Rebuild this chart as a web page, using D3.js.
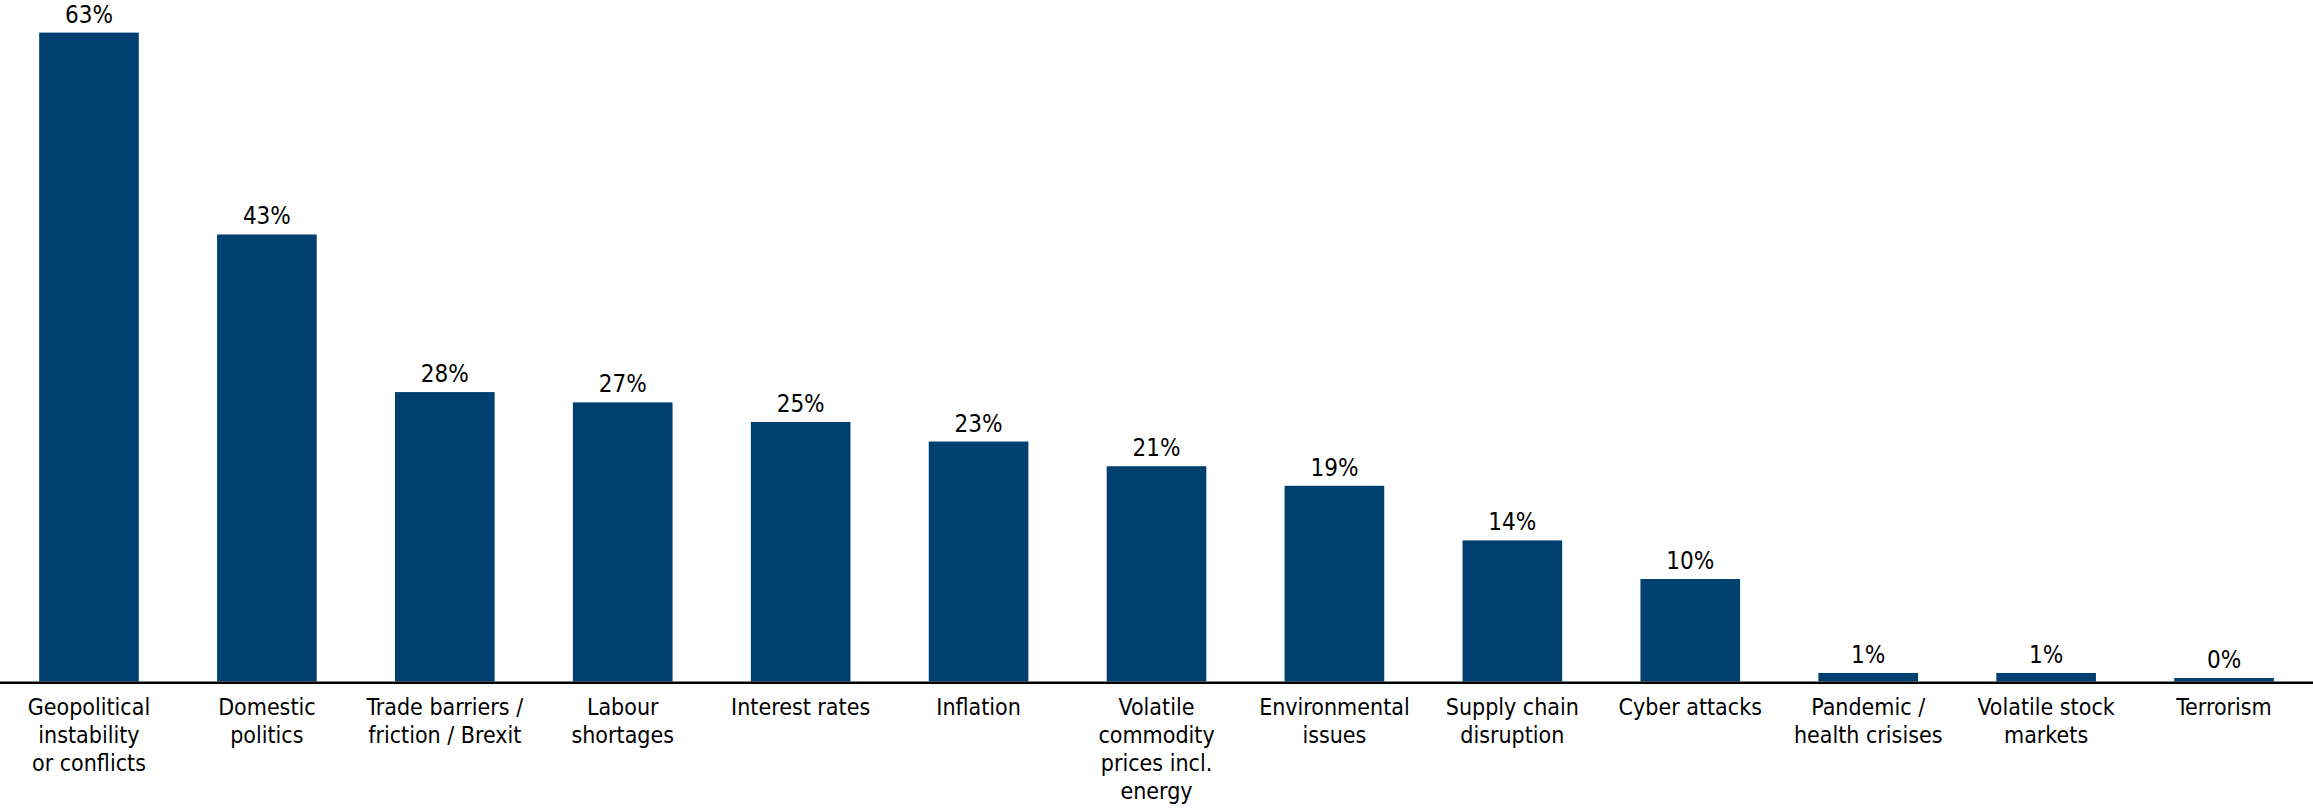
<!DOCTYPE html>
<html>
<head>
<meta charset="utf-8">
<script src="https://cdn.jsdelivr.net/npm/d3@7"></script>
<style>
  html, body { margin: 0; padding: 0; background: #fff; }
  svg text { font-family: "DejaVu Sans Condensed", "DejaVu Sans", sans-serif; fill: #000; }
</style>
</head>
<body>
<svg id="chart" width="2313" height="808"></svg>
<script>
// categories (line breaks as in the picture)
const categories = [
  "Geopolitical\ninstability\nor conflicts",
  "Domestic\npolitics",
  "Trade barriers /\nfriction / Brexit",
  "Labour\nshortages",
  "Interest rates",
  "Inflation",
  "Volatile\ncommodity\nprices incl.\nenergy",
  "Environmental\nissues",
  "Supply chain\ndisruption",
  "Cyber attacks",
  "Pandemic /\nhealth crisises",
  "Volatile stock\nmarkets",
  "Terrorism"
]

// share of respondents, %
const values = [63, 43.4, 28.1, 27.1, 25.2, 23.3, 20.9, 19.0, 13.7, 9.95, 0.83, 0.83, 0.34]

const width = 2313
const baseY = 681.5

const svg = d3.select("svg#chart")

const x = d3.scaleBand()
            .domain(categories)
            .range([0, width])
            .paddingInner(0.44)
            .paddingOuter(0.22)

const y = d3.scaleLinear()
            .domain([0, 65])
            .range([baseY, baseY - 65 * 10.3])

const fmt = v => Math.round(v) + "%"

// bars
svg.selectAll("rect.bar")
    .data(values)
    .join("rect")
        .attr("class", "bar")
        .attr("x", (d, i) => x(categories[i]))
        .attr("width", x.bandwidth())
        .attr("y", d => y(d))
        .attr("height", d => y(0) - y(d))
        .attr("fill", "#004071")

// value labels
svg.selectAll("text.val")
    .data(values)
    .join("text")
        .attr("class", "val")
        .attr("x", (d, i) => x(categories[i]) + x.bandwidth() / 2)
        .attr("y", d => y(d) - 10)
        .attr("text-anchor", "middle")
        .style("font-size", "24px")
        .text(d => fmt(d))

// baseline
svg.append("line")
    .attr("x1", 0)
    .attr("x2", width)
    .attr("y1", baseY + 1.2)
    .attr("y2", baseY + 1.2)
    .attr("stroke", "#000")
    .attr("stroke-width", 2.5)

// category labels
const cat = svg.selectAll("text.cat")
    .data(categories)
    .join("text")
        .attr("class", "cat")
        .attr("x", d => x(d) + x.bandwidth() / 2)
        .attr("y", 715)
        .attr("text-anchor", "middle")
        .style("font-size", "23px")

cat.selectAll("tspan")
    .data(d => d.split("\n").map(s => ({ s, x: x(d) + x.bandwidth() / 2 })))
    .join("tspan")
        .attr("x", t => t.x)
        .attr("dy", (t, i) => i === 0 ? 0 : 28)
        .text(t => t.s)
</script>
</body>
</html>
